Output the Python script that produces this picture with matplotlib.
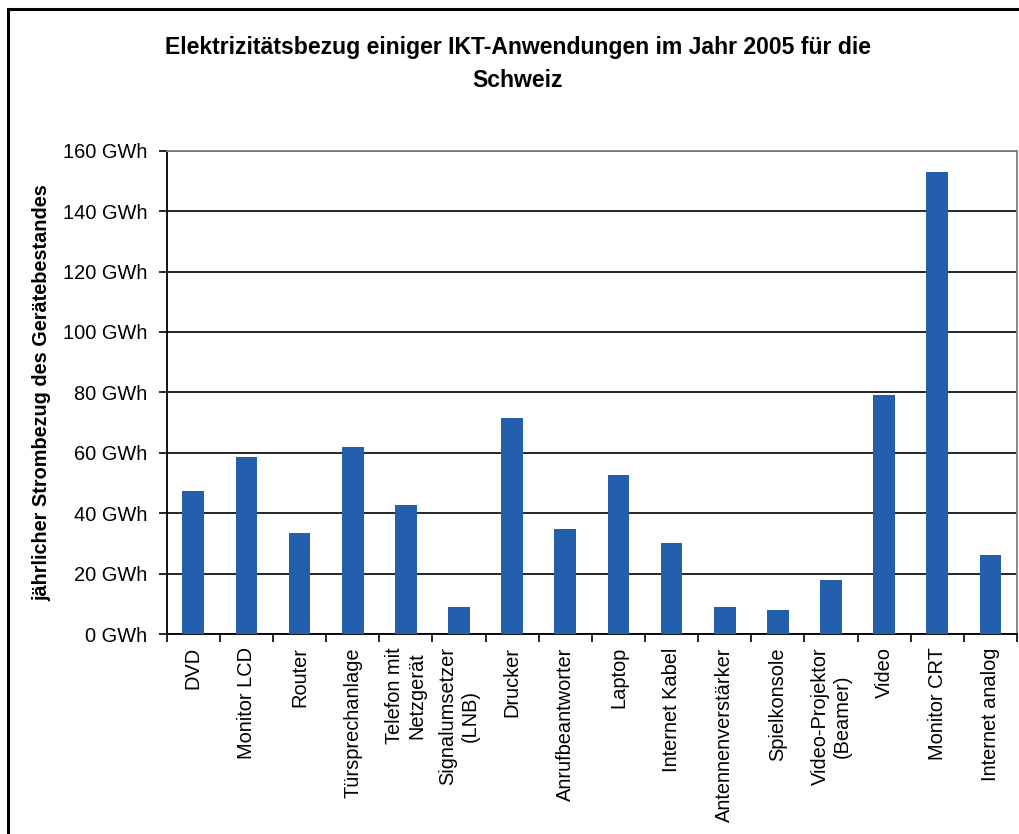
import numpy as np
import matplotlib
matplotlib.use("Agg")
import matplotlib.pyplot as plt
from matplotlib.patches import Rectangle
from matplotlib.ticker import FuncFormatter

# data (GWh per year)
categories = ["DVD", "Monitor LCD", "Router", "Türsprechanlage",
              "Telefon mit\nNetzgerät", "Signalumsetzer\n(LNB)", "Drucker",
              "Anrufbeantworter", "Laptop", "Internet Kabel",
              "Antennenverstärker", "Spielkonsole", "Video-Projektor\n(Beamer)",
              "Video", "Monitor CRT", "Internet analog"]
values = [47.5, 58.7, 33.5, 62.0, 42.8, 9.0, 71.6, 34.9, 52.7, 30.2,
          9.0, 8.0, 17.9, 79.0, 152.8, 26.2]
y_ticks = [0, 20, 40, 60, 80, 100, 120, 140, 160]

BAR_COLOR = "#235FAD"

plt.rcParams.update({
    "font.family": ["Liberation Sans", "DejaVu Sans"],
    "font.size": 14.4,
})

fig = plt.figure(figsize=(10.19, 8.34), dpi=100)
ax = fig.add_axes([166.7 / 1019, 1 - 634 / 834, (1017 - 166.7) / 1019, (634 - 150.7) / 834])

x = np.arange(len(categories))
ax.bar(x, values, width=0.41, color=BAR_COLOR, zorder=3)

ax.set_xlim(-0.5, len(categories) - 0.5)
ax.set_ylim(0, 160)
ax.set_yticks(y_ticks)
ax.yaxis.set_major_formatter(FuncFormatter(lambda v, p: f"{int(v)} GWh"))
ax.tick_params(axis="y", length=6, width=1.2, pad=8, color="black")

# labels at category centres, tick marks at the boundaries
ax.set_xticks(x)
ax.set_xticklabels(categories, rotation=90, ha="center", va="top",
                   multialignment="center")
ax.tick_params(axis="x", which="major", length=0, pad=9.5)
ax.set_xticks(np.arange(len(categories) + 1) - 0.5, minor=True)
ax.tick_params(axis="x", which="minor", length=6, width=1.2, color="black")

ax.yaxis.grid(True, color="black", linewidth=1.2, zorder=0)
ax.set_axisbelow(True)
for side in ["left", "bottom"]:
    ax.spines[side].set_color("black")
    ax.spines[side].set_linewidth(1.3)
for side in ["top", "right"]:
    ax.spines[side].set_color("#808080")
    ax.spines[side].set_linewidth(1.3)

ax.set_ylabel("jährlicher Strombezug des Gerätebestandes", fontsize=14.3,
              fontweight="bold")
ax.yaxis.set_label_coords(-115 / (1017 - 166.7), 0.5)

fig.text(518 / 1019, 1 - 64 / 834,
         "Elektrizitätsbezug einiger IKT-Anwendungen im Jahr 2005 für die\nSchweiz",
         ha="center", va="center", fontsize=16.6, fontweight="bold",
         linespacing=1.6)

# outer chart frame (cut off on the right and bottom in the reference)
fig.patches.append(Rectangle((8 / 1019, -0.1), 1.2, 1.1 - 9 / 834,
                             transform=fig.transFigure, fill=False,
                             edgecolor="black", linewidth=2.2))

fig.savefig("out.png", dpi=100)
